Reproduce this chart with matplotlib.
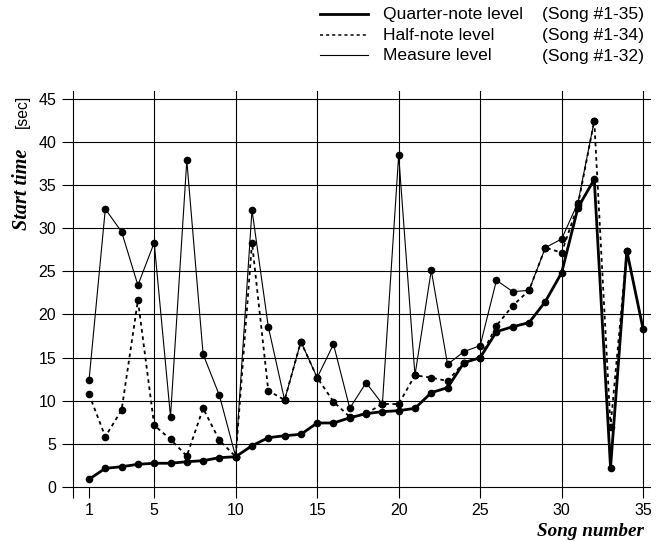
import matplotlib
matplotlib.use("Agg")
import matplotlib.pyplot as plt
from matplotlib.lines import Line2D

plt.rcParams['font.family'] = ['Liberation Sans', 'DejaVu Sans']

songs_quarter = list(range(1, 36))
quarter = [0.86, 2.13, 2.32, 2.6, 2.72, 2.72, 2.9, 3.02, 3.37, 3.48,
           4.76, 5.69, 5.92, 6.08, 7.4, 7.4, 8.0, 8.48, 8.71, 8.83,
           9.1, 10.92, 11.5, 14.4, 14.98, 18.0, 18.58, 19.05, 21.5, 24.85,
           32.4, 35.7, 2.2, 27.4, 18.28]

songs_half = list(range(1, 35))
half = [10.73, 5.81, 8.9, 21.65, 7.13, 5.5, 3.56, 9.1, 5.39, 3.48,
        28.34, 11.15, 10.07, 16.84, 12.66, 9.87, 8.1, 8.5, 9.6, 9.6,
        12.94, 12.66, 12.28, 14.4, 14.98, 18.7, 21.02, 22.8, 27.76, 27.18,
        32.7, 42.5, 6.97, 27.4]

songs_measure = list(range(1, 33))
measure = [12.36, 32.25, 29.6, 23.4, 28.34, 8.13, 37.9, 15.38, 10.6, 3.48,
           32.14, 18.58, 10.07, 16.84, 12.66, 16.54, 9.1, 12.08, 9.6, 38.5,
           12.94, 25.13, 14.2, 15.68, 16.38, 23.97, 22.65, 22.8, 27.76, 28.77,
           32.98, 42.5]

x_ticks = [1, 5, 10, 15, 20, 25, 30, 35]
y_ticks = [0, 5, 10, 15, 20, 25, 30, 35, 40, 45]

fig = plt.figure(figsize=(6.69, 5.41), dpi=100)
ax = fig.add_axes([0.1087, 0.1004, 0.8636, 0.7321])
xmax, ymax = 35.45, 46.0
ax.set_xlim(0, xmax)
ax.set_ylim(0, ymax)
for s in ax.spines.values():
    s.set_visible(False)

# grid lines
vlines = [0, 5, 10, 15, 20, 25, 30, 35]
for v in vlines:
    ax.plot([v, v], [0, ymax], color='black', lw=0.8, zorder=1, clip_on=False)
for h in y_ticks:
    ax.plot([0, xmax], [h, h], color='black', lw=0.8, zorder=1, clip_on=False)

ax.set_xticks([0] + x_ticks)
ax.set_xticklabels([''] + [str(t) for t in x_ticks])
ax.set_yticks(y_ticks)
ax.tick_params(axis='both', direction='out', length=8, width=0.8, labelsize=11.5, pad=4)

ax.plot(songs_measure, measure, '-', color='black', lw=0.8, marker='o', ms=4.5, zorder=3, clip_on=False)
ax.plot(songs_half, half, color='black', lw=1.3, ls=(0, (2, 2)), marker='o', ms=4.5, zorder=4, clip_on=False)
ax.plot(songs_quarter, quarter, '-', color='black', lw=2.0, marker='o', ms=4.5, zorder=5, clip_on=False)

# axis labels
fig.text(22/669, 1 - 189/541, 'Start time', rotation=90, ha='center', va='center',
         fontfamily='Liberation Serif', fontstyle='italic', fontweight='bold', fontsize=14.5)
fig.text(22/669, 1 - 111/541, '[sec]', rotation=90, ha='center', va='center', fontsize=11.3)
fig.text(644/669, 1 - 532/541, 'Song number', ha='right', va='center',
         fontfamily='Liberation Serif', fontstyle='italic', fontweight='bold', fontsize=13.8)

# legend
rows = [('Quarter-note level', '(Song #1-35)', dict(lw=2.0, ls='-')),
        ('Half-note level', '(Song #1-34)', dict(lw=1.1, ls=(0, (2, 2)))),
        ('Measure level', '(Song #1-32)', dict(lw=0.8, ls='-'))]
baselines = [19.5, 40.0, 60.5]
for (lab, rng, st), yb in zip(rows, baselines):
    yf = 1 - yb / 541
    yl = 1 - (yb - 5.5) / 541
    fig.add_artist(Line2D([320/669, 368/669], [yl, yl], color='black', **st))
    fig.text(383/669, yf, lab, ha='left', va='baseline', fontsize=12.6)
    fig.text(542/669, yf, rng, ha='left', va='baseline', fontsize=12.6)

fig.savefig('out.png', dpi=100)
